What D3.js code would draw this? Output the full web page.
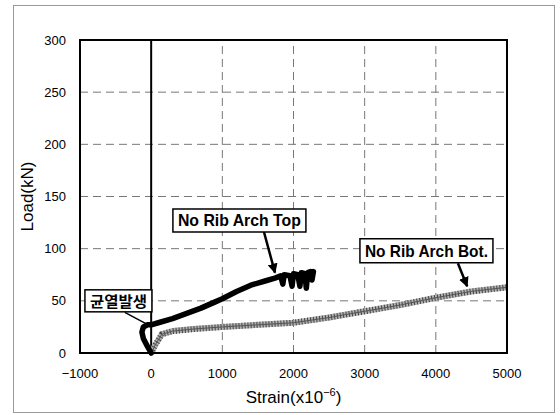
<!DOCTYPE html>
<html>
<head>
<meta charset="utf-8">
<script src="https://cdn.jsdelivr.net/npm/d3@7"></script>
<style>
body { margin: 0; background: #fff; }
</style>
</head>
<body>
<script>
// strain (x10^-6), load (kN)
var topSeries = [[0,0],[-50,6],[-110,14],[-130,20],[-110,25],[-50,27],[0,27],[100,29],[300,33],[500,38],[700,43],[900,49],[1000,52],
  [1200,59],[1400,65],[1600,69],[1750,72],[1820,74],[1850,66],[1870,75],[1950,74],[1980,64],[2000,76],[2060,75],
  [2090,64],[2110,77],[2160,76],[2180,62],[2200,77],[2240,78],[2260,70],[2280,78]];
var botSeries = [[0,0],[60,8],[150,18],[300,21],[600,23],[1000,25],[1500,27],[2000,29],[2500,34],[3000,40],
  [3500,46],[4000,53],[4500,59],[5000,63]];
var xTicks = [-1000, 0, 1000, 2000, 3000, 4000, 5000];
var yTicks = [0, 50, 100, 150, 200, 250, 300];
var notes = [
  { text: "No Rib Arch Top", x: 1240, y: 127, w: 133, h: 23, ax0: 1585, ay0: 116, ax1: 1740, ay1: 77, arrow: true },
  { text: "No Rib Arch Bot.", x: 3868, y: 98, w: 133, h: 24, ax0: 4310, ay0: 86, ax1: 4440, ay1: 64, arrow: true },
  { text: "균열발생", x: -460, y: 50, w: 67, h: 22, ax0: -370, ay0: 39, ax1: -15, ay1: 26, arrow: false }
];

var margins = { top: 40, bottom: 62, left: 80, right: 53 };
var width = 560, height = 415;

var svg = d3.select("body").append("svg")
  .attr("width", width)
  .attr("height", height);

// outer frame
svg.append("rect")
  .attr("x", 13.5).attr("y", 5.5)
  .attr("width", 541).attr("height", 407)
  .attr("fill", "none").attr("stroke", "#999").attr("stroke-width", 1);

var x = d3.scaleLinear().domain([-1000, 5000]).range([margins.left, width - margins.right]);
var y = d3.scaleLinear().domain([0, 300]).range([height - margins.bottom, margins.top]);

var g = svg.append("g");

// grid
g.selectAll(".hgrid").data(yTicks.filter(d => d > 0 && d < 300)).enter().append("line")
  .attr("x1", x(-1000)).attr("x2", x(5000))
  .attr("y1", d => y(d)).attr("y2", d => y(d))
  .attr("stroke", "#777").attr("stroke-width", 1).attr("stroke-dasharray", "8,5");
g.selectAll(".vgrid").data(xTicks.filter(d => d > 0 && d < 5000)).enter().append("line")
  .attr("x1", d => x(d)).attr("x2", d => x(d))
  .attr("y1", y(0)).attr("y2", y(300))
  .attr("stroke", "#777").attr("stroke-width", 1).attr("stroke-dasharray", "8,5");

// zero line
g.append("line")
  .attr("x1", x(0)).attr("x2", x(0)).attr("y1", y(0)).attr("y2", y(300))
  .attr("stroke", "#000").attr("stroke-width", 2);

var line = d3.line().x(d => x(d[0])).y(d => y(d[1]));

// bottom gauge, hatched grey band
g.append("path").datum(botSeries).attr("d", line)
  .attr("fill", "none").attr("stroke", "#b0b0b0").attr("stroke-width", 6).attr("stroke-linejoin", "round");
g.append("path").datum(botSeries).attr("d", line)
  .attr("fill", "none").attr("stroke", "#444").attr("stroke-width", 6).attr("stroke-dasharray", "1,2");
g.append("path").datum(botSeries).attr("d", line)
  .attr("fill", "none").attr("stroke", "#555").attr("stroke-width", 1);

// top gauge, thick black
g.append("path").datum(topSeries).attr("d", line)
  .attr("fill", "none").attr("stroke", "#000").attr("stroke-width", 5.5)
  .attr("stroke-linejoin", "round").attr("stroke-linecap", "round");

// plot border
g.append("rect")
  .attr("x", x(-1000)).attr("y", y(300))
  .attr("width", x(5000) - x(-1000)).attr("height", y(0) - y(300))
  .attr("fill", "none").attr("stroke", "#000").attr("stroke-width", 2);

// tick labels
g.selectAll(".ylab").data(yTicks).enter().append("text")
  .attr("x", x(-1000) - 14).attr("y", d => y(d) + 4.5)
  .attr("text-anchor", "end")
  .attr("font-family", "Liberation Sans, Arial, sans-serif").attr("font-size", 13)
  .text(d => d);
g.selectAll(".xlab").data(xTicks).enter().append("text")
  .attr("x", d => x(d)).attr("y", y(0) + 25)
  .attr("text-anchor", "middle")
  .attr("font-family", "Liberation Sans, Arial, sans-serif").attr("font-size", 13)
  .text(d => d < 0 ? "\u2212" + Math.abs(d) : d);

// axis titles
var xt = svg.append("text")
  .attr("x", (x(-1000) + x(5000)) / 2).attr("y", 403)
  .attr("text-anchor", "middle")
  .attr("font-family", "Liberation Sans, Arial, sans-serif").attr("font-size", 17);
xt.append("tspan").text("Strain(x10");
xt.append("tspan").attr("dy", -7).attr("font-size", 11).text("\u22126");
xt.append("tspan").attr("dy", 7).text(")");

svg.append("text")
  .attr("transform", "translate(33," + ((y(0) + y(300)) / 2) + ") rotate(-90)")
  .attr("text-anchor", "middle")
  .attr("font-family", "Liberation Sans, Arial, sans-serif").attr("font-size", 17)
  .text("Load(kN)");

// annotations
svg.append("defs").append("marker")
  .attr("id", "head").attr("viewBox", "0 0 10 10")
  .attr("refX", 9).attr("refY", 5)
  .attr("markerWidth", 4).attr("markerHeight", 4)
  .attr("orient", "auto")
  .append("path").attr("d", "M0,0 L10,5 L0,10 z").attr("fill", "#000");

notes.forEach(function (n) {
  svg.append("line")
    .attr("x1", x(n.ax0)).attr("y1", y(n.ay0))
    .attr("x2", x(n.ax1)).attr("y2", y(n.ay1))
    .attr("stroke", "#000").attr("stroke-width", n.arrow ? 2.5 : 1.5)
    .attr("marker-end", n.arrow ? "url(#head)" : null);
  svg.append("rect")
    .attr("x", x(n.x) - n.w / 2).attr("y", y(n.y) - n.h / 2)
    .attr("width", n.w).attr("height", n.h)
    .attr("fill", "#fff").attr("stroke", "#000").attr("stroke-width", 1.5);
  svg.append("text")
    .attr("x", x(n.x)).attr("y", y(n.y) + 6)
    .attr("text-anchor", "middle")
    .attr("font-family", n.arrow ? "Liberation Sans Narrow, Arial Narrow, Liberation Sans, sans-serif" : "Noto Sans CJK KR, sans-serif")
    .attr("font-weight", "bold")
    .attr("font-size", n.arrow ? 17 : 15)
    .attr("textLength", n.w - 10).attr("lengthAdjust", "spacingAndGlyphs")
    .text(n.text);
});
</script>
</body>
</html>
